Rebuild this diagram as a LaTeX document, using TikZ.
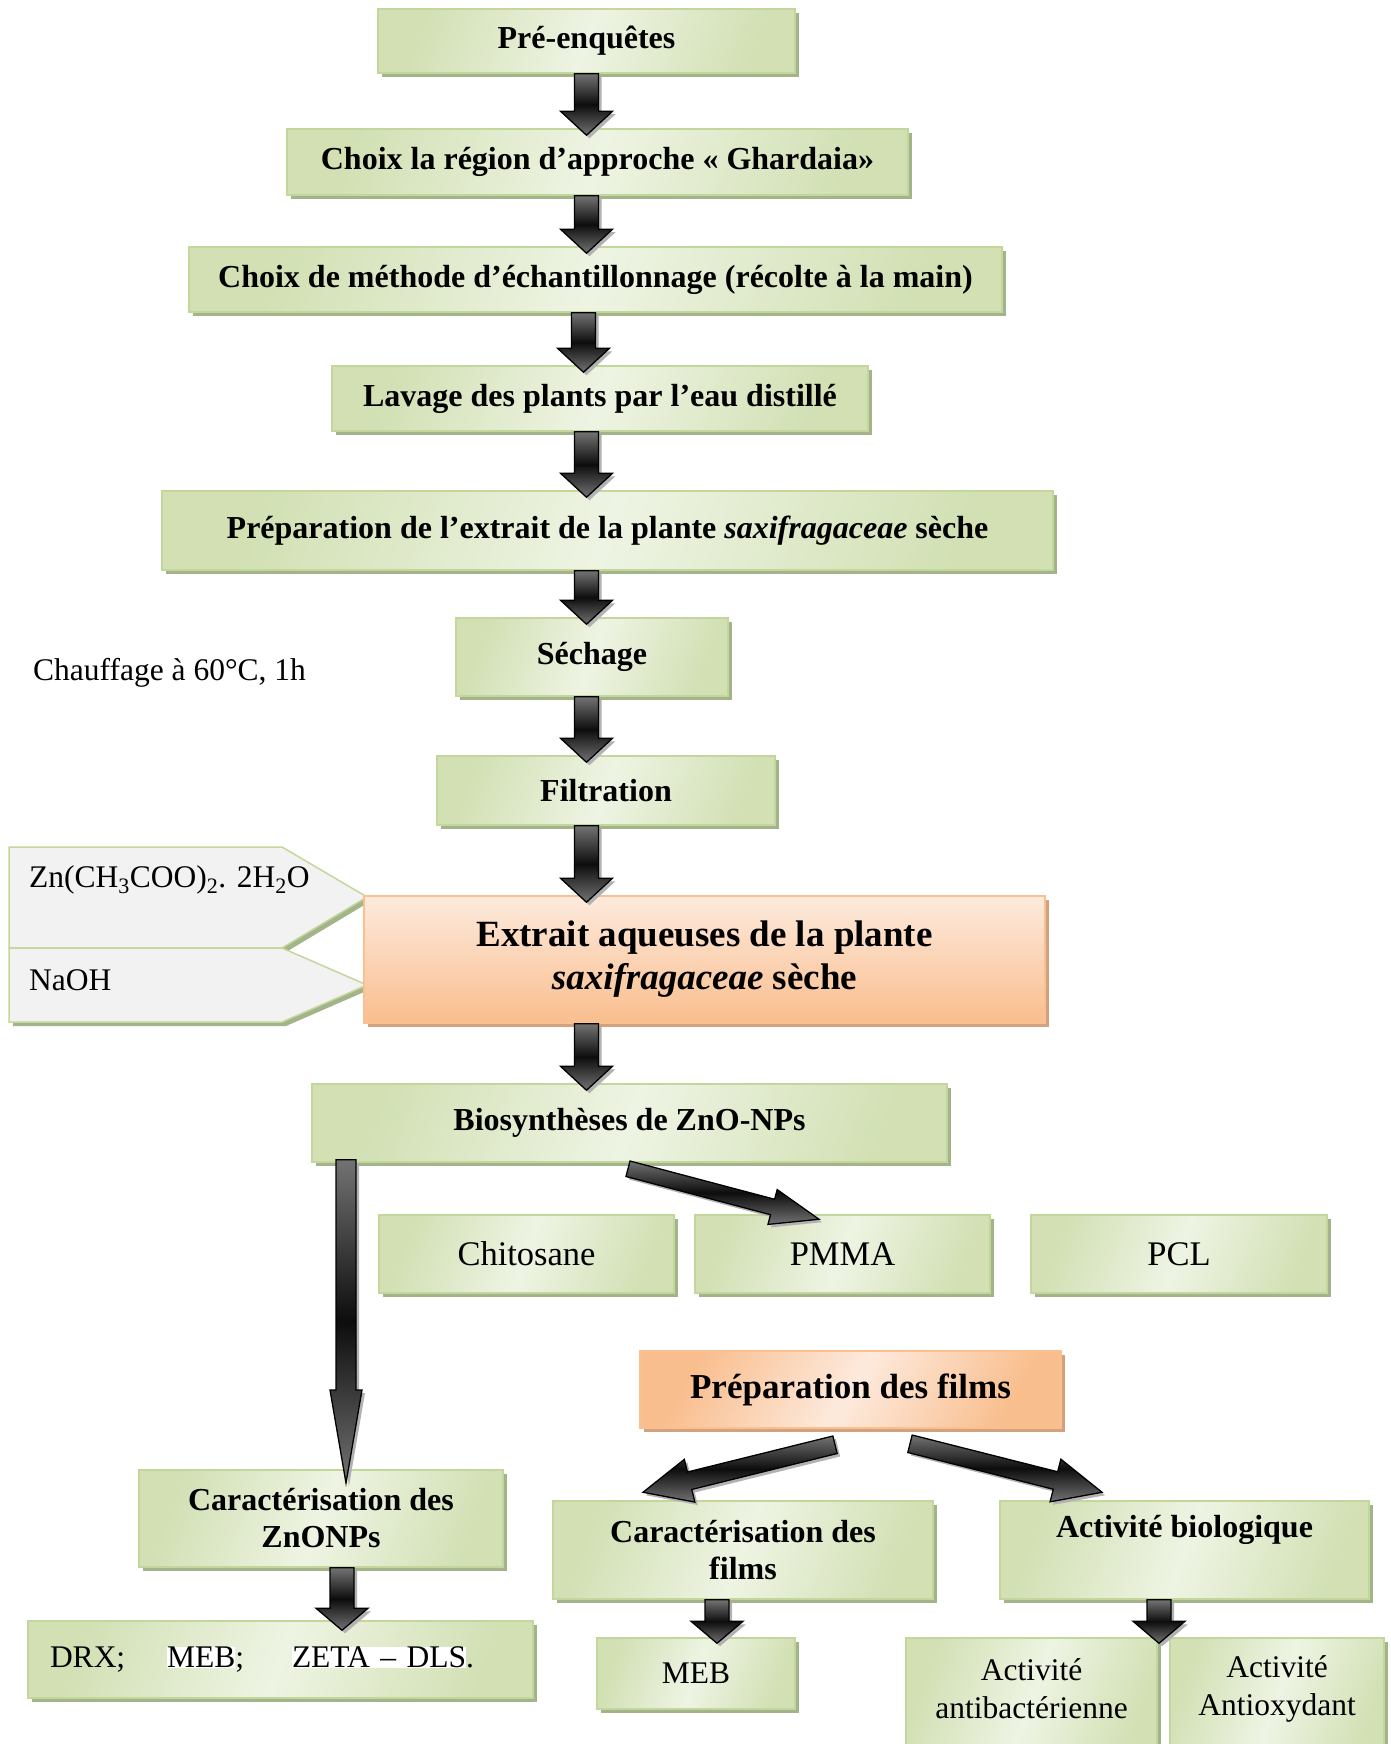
\documentclass[tikz,border=0pt]{standalone}
\usepackage{fontspec}
\setmainfont{Liberation Serif}
\usetikzlibrary{calc,shadows}
\definecolor{gdark}{HTML}{D2E0B4}
\definecolor{glight}{HTML}{EEF4E3}
\definecolor{gborder}{HTML}{C3D69B}
\definecolor{gshadow}{HTML}{A3B38A}
\definecolor{odark}{HTML}{F9BE8E}
\definecolor{olight}{HTML}{FDEADD}
\definecolor{oborder}{HTML}{FAC090}
\definecolor{oshadow}{HTML}{D2A27E}
\definecolor{pfill}{HTML}{F2F2F2}
\newcommand\fbold{\fontsize{32}{37}\selectfont\bfseries}
\newcommand\freg{\fontsize{31.5}{38}\selectfont}
\newcommand\fregl{\fontsize{34.5}{40}\selectfont}
\newcommand\fbig{\fontsize{37}{43}\selectfont\bfseries}
\newcommand\fbigb{\fontsize{35}{40}\selectfont\bfseries}
\begin{document}
\begin{tikzpicture}[x=1pt,y=-1pt,
  box/.style={line width=1.5pt, inner sep=0pt, align=center},
  gbox/.style={box, draw=gborder, top color=gdark, bottom color=gdark, middle color=glight, shading angle=70,
    general shadow={shadow xshift=4pt, shadow yshift=-4pt, fill=gshadow}},
  obox/.style={box, draw=oborder, general shadow={shadow xshift=4pt, shadow yshift=-4pt, fill=oshadow}},
  gb/.style={gbox, font=\fbold},
  gr/.style={gbox, font=\freg},
  grl/.style={gbox, font=\fregl},
  txt/.style={inner sep=0pt, align=center},
  pent/.style={draw=gborder, line width=1.5pt, fill=pfill,
    general shadow={shadow xshift=4pt, shadow yshift=-4pt, fill=gshadow}},
  arr/.style={draw=black, line width=1.3pt, line join=miter, top color=black!55, bottom color=black!55, middle color=black!95,
    general shadow={shadow xshift=3pt, shadow yshift=-3pt, fill=black!30}},
  blk/.style n args={3}{to path={
    let \p1=(\tikztostart), \p2=(\tikztotarget),
        \n1={atan2(\y2-\y1,\x2-\x1)},
        \n2={veclen(\x2-\x1,\y2-\y1)-#3}
    in ($(\p1)+(\n1+90:#1)$) -- ($(\p1)+(\n1:{\n2*1pt})+(\n1+90:#1)$)
       -- ($(\p1)+(\n1:{\n2*1pt})+(\n1+90:#2)$) -- (\p2)
       -- ($(\p1)+(\n1:{\n2*1pt})+(\n1-90:#2)$) -- ($(\p1)+(\n1:{\n2*1pt})+(\n1-90:#1)$)
       -- ($(\p1)+(\n1-90:#1)$) -- cycle}}
]
\useasboundingbox (0,0) rectangle (1390,1744);
\clip (0,0) rectangle (1390,1744);
\fill[white] (0,0) rectangle (1390,1744);

% input pentagons
\draw[pent] (9,847) -- (282,847) -- (367,897) -- (282,948) -- (9,948) -- cycle;
\draw[pent] (9,948) -- (282,948) -- (367,985) -- (282,1022) -- (9,1022) -- cycle;
\node[txt, font=\freg, anchor=west] (zn) at (29,880) {Zn(CH\textsubscript{3}COO)\textsubscript{2}. 2H\textsubscript{2}O};
\node[txt, font=\freg, anchor=west] (naoh) at (29,980) {NaOH};

% boxes
\node[gb, minimum width=417pt, minimum height=64pt] (pre) at (586.5,41) {Pré-enquêtes};
\node[gb, minimum width=621pt, minimum height=66pt] (choix) at (597.5,162) {Choix la région d’approche « Ghardaia»};
\node[gb, minimum width=813pt, minimum height=65pt] (meth) at (595.5,279.5) {Choix de méthode d’échantillonnage (récolte à la main)};
\node[gb, minimum width=536pt, minimum height=65pt] (lav) at (600,398.5) {Lavage des plants par l’eau distillé};
\node[gb, minimum width=891pt, minimum height=79pt] (prep) at (607.5,530.5) {Préparation de l’extrait de la plante \textit{saxifragaceae} sèche};
\node[gb, minimum width=272pt, minimum height=78pt] (sech) at (592,657) {Séchage};
\node[gb, minimum width=338pt, minimum height=69pt] (filt) at (606,790.5) {Filtration};
\node[txt, font=\freg, anchor=west] (chauf) at (33,673) {Chauffage à 60°C, 1h};

\node[obox, top color=olight, bottom color=odark, font=\fbig, minimum width=681pt, minimum height=127pt] (ext) at (704.5,959.5)
  {Extrait aqueuses de la plante\\\textit{saxifragaceae} sèche};

\node[gb, minimum width=635pt, minimum height=78pt] (bio) at (629.5,1123) {Biosynthèses de ZnO-NPs};
\node[grl, minimum width=295pt, minimum height=78pt] (chito) at (526.5,1254) {Chitosane};
\node[grl, minimum width=295pt, minimum height=78pt] (pmma) at (842.5,1254) {PMMA};
\node[grl, minimum width=296pt, minimum height=78pt] (pcl) at (1179,1254) {PCL};

\node[obox, top color=odark, bottom color=odark, middle color=olight, shading angle=60, font=\fbigb,
  minimum width=421pt, minimum height=77pt] (pfilms) at (850.5,1389.5) {Préparation des films};

\node[gb, minimum width=364pt, minimum height=97pt] (czn) at (321,1518.5) {Caractérisation des\\ZnONPs};
\node[gr, minimum width=505pt, minimum height=77pt, text width=461pt, align=left] (drx) at (280.5,1659.5)
  {\setlength{\fboxsep}{0pt}\makebox[117pt][l]{DRX;}\makebox[125pt][l]{\colorbox{white}{MEB};}\colorbox{white}{ZETA – DLS}.};
\node[gb, minimum width=380pt, minimum height=98pt] (cfilms) at (743,1550) {Caractérisation des\\films};
\node[gb, minimum width=369pt, minimum height=98pt] (bact) at (1184.5,1550) {Activité biologique\\\strut};
\node[gr, minimum width=198pt, minimum height=71pt] (meb) at (696,1673.5) {MEB};
\node[gr, minimum width=251pt, minimum height=122pt] (antib) at (1031.5,1699) {};
\node[gr, minimum width=214pt, minimum height=122pt] (antiox) at (1277,1699) {};
\node[txt, font=\freg] (antibt) at (1031.5,1689) {Activité\\antibactérienne};
\node[txt, font=\freg] (antioxt) at (1277,1689) {Activité\\Antioxydant};

% arrows (main column)
\draw[arr, blk={12pt}{26pt}{24pt}] (pre.south) to ($(pre.south |- choix.north)+(0,7)$);
\draw[arr, blk={12pt}{26pt}{24pt}] (choix.south -| pre.south) to ($(pre.south |- meth.north)+(0,7)$);
\draw[arr, blk={12pt}{26pt}{24pt}] ($(meth.south -| pre.south)+(-3,0)$) to ($(pre.south |- lav.north)+(-3,7)$);
\draw[arr, blk={12pt}{26pt}{24pt}] (lav.south -| pre.south) to ($(pre.south |- prep.north)+(0,7)$);
\draw[arr, blk={12pt}{26pt}{24pt}] (prep.south -| pre.south) to ($(pre.south |- sech.north)+(0,7)$);
\draw[arr, blk={12pt}{26pt}{24pt}] (sech.south -| pre.south) to ($(pre.south |- filt.north)+(0,7)$);
\draw[arr, blk={12pt}{26pt}{24pt}] (filt.south -| pre.south) to ($(pre.south |- ext.north)+(0,7)$);
\draw[arr, blk={12pt}{26pt}{24pt}] (ext.south -| pre.south) to ($(pre.south |- bio.north)+(0,7)$);

% long arrow
\coordinate (ltip) at (346,1483);
\draw[arr, blk={10pt}{16pt}{93pt}] ($(bio.south -| ltip)+(0,-3)$) to (ltip);
% arrow to PMMA
\draw[arr, blk={8pt}{18pt}{48pt}] ([xshift=-1.5pt,yshift=-6pt]bio.south) to ([xshift=-23.5pt,yshift=-5pt]pmma.north);
% arrows from Preparation des films
\draw[arr, blk={9pt}{22pt}{48pt}] ([xshift=-15.5pt,yshift=-16pt]pfilms.south) to ([xshift=-100pt,yshift=8pt]cfilms.north);
\draw[arr, blk={9pt}{22pt}{48pt}] ([xshift=59.5pt,yshift=-15pt]pfilms.south) to ([xshift=-82.5pt,yshift=8pt]bact.north);
% small arrows
\draw[arr, blk={12pt}{26pt}{22pt}] ([xshift=21pt]czn.south) to ([xshift=21pt,yshift=-10pt]czn.south |- drx.north);
\draw[arr, blk={12pt}{26pt}{22pt}] ([xshift=-26pt]cfilms.south) to ([xshift=-26pt,yshift=-6pt]cfilms.south |- meb.north);
\draw[arr, blk={12pt}{26pt}{22pt}] ([xshift=-25.5pt]bact.south) to ([xshift=-25.5pt,yshift=-6pt]bact.south |- antib.north);
\end{tikzpicture}
\end{document}
